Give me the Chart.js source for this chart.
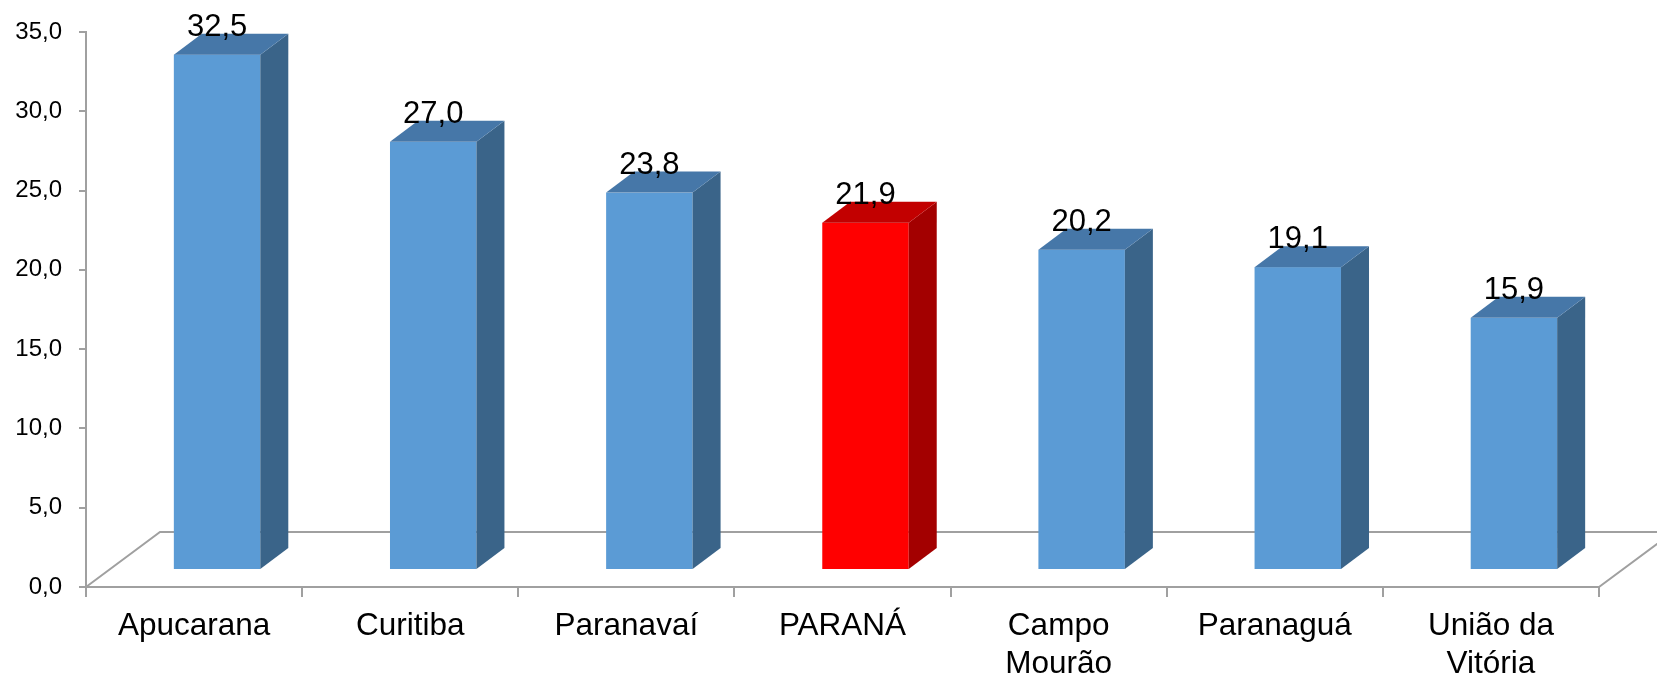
<!DOCTYPE html>
<html>
<head>
<meta charset="utf-8">
<script src="https://cdn.jsdelivr.net/npm/chart.js@4/dist/chart.umd.min.js"></script>
<style>
  html, body { margin: 0; padding: 0; background: #ffffff; }
  #wrap { width: 1657px; height: 676px; position: relative; }
</style>
</head>
<body>
<div id="wrap"><canvas id="c" width="1657" height="676"></canvas></div>
<script>
const categories = ["Apucarana", "Curitiba", "Paranavaí", "PARANÁ", ["Campo", "Mourão"], "Paranaguá", ["União da", "Vitória"]];
const values = [32.5, 27.0, 23.8, 21.9, 20.2, 19.1, 15.9];
const highlight = [false, false, false, true, false, false, false];
const yTicks = { min: 0, max: 35, step: 5 };

const FONT = '"Liberation Sans", Arial, sans-serif';
const BLUE = { front: '#5B9BD5', top: '#4677A8', side: '#3A6489' };
const RED = { front: '#FF0000', top: '#C20000', side: '#A30000' };
const AXIS = '#A0A0A0';

const fmt = v => v.toFixed(1).replace('.', ',');

const bar3d = {
  id: 'bar3d',
  beforeDatasetsDraw(chart) {
    const ctx = chart.ctx;
    const a = chart.chartArea;
    const fdx = 74, fdy = -55;
    ctx.save();
    ctx.strokeStyle = AXIS;
    ctx.lineWidth = 2;
    ctx.beginPath();
    ctx.moveTo(a.left, a.bottom);
    ctx.lineTo(a.left + fdx, a.bottom + fdy);
    ctx.lineTo(a.right + fdx, a.bottom + fdy);
    ctx.lineTo(a.right, a.bottom);
    ctx.stroke();
    ctx.restore();
  },
  afterDatasetsDraw(chart) {
    const ctx = chart.ctx;
    const meta = chart.getDatasetMeta(0);
    const ox = 23, oy = -17, dx = 28, dy = -21;
    ctx.save();
    meta.data.forEach((bar, i) => {
      const p = bar.getProps(['x', 'y', 'base', 'width'], true);
      const c = highlight[i] ? RED : BLUE;
      const x0 = p.x - p.width / 2 + ox, x1 = x0 + p.width;
      const yt = p.y + oy, yb = p.base + oy;
      ctx.fillStyle = c.front;
      ctx.fillRect(x0, yt, p.width, yb - yt);
      ctx.fillStyle = c.side;
      ctx.beginPath();
      ctx.moveTo(x1, yt); ctx.lineTo(x1 + dx, yt + dy); ctx.lineTo(x1 + dx, yb + dy); ctx.lineTo(x1, yb); ctx.closePath();
      ctx.fill();
      ctx.fillStyle = c.top;
      ctx.beginPath();
      ctx.moveTo(x0, yt); ctx.lineTo(x0 + dx, yt + dy); ctx.lineTo(x1 + dx, yt + dy); ctx.lineTo(x1, yt); ctx.closePath();
      ctx.fill();
      ctx.fillStyle = '#000';
      ctx.font = '31px ' + FONT;
      ctx.textAlign = 'center';
      ctx.textBaseline = 'alphabetic';
      ctx.fillText(fmt(values[i]), (x0 + x1) / 2, yt - 19);
    });
    ctx.restore();
  }
};

new Chart(document.getElementById('c'), {
  type: 'bar',
  data: {
    labels: categories,
    datasets: [{
      data: values,
      backgroundColor: 'rgba(0,0,0,0)',
      borderWidth: 0,
      barPercentage: 0.4,
      categoryPercentage: 1.0
    }]
  },
  options: {
    responsive: false,
    animation: false,
    devicePixelRatio: 1,
    layout: { padding: { top: 32, right: 58, left: 0, bottom: 0 } },
    plugins: { legend: { display: false }, tooltip: { enabled: false } },
    scales: {
      x: {
        afterFit(s) { s.height = 89; },
        grid: { offset: true, drawOnChartArea: false, tickLength: 10, color: AXIS, lineWidth: 2 },
        border: { display: true, color: AXIS, width: 2 },
        ticks: { color: '#000', font: { family: FONT, size: 31.5, lineHeight: 1.19 }, padding: 11, maxRotation: 0, autoSkip: false }
      },
      y: {
        min: yTicks.min, max: yTicks.max,
        afterFit(s) { s.width = 86; },
        grid: { drawOnChartArea: false, tickLength: 7, color: AXIS, lineWidth: 2 },
        border: { display: true, color: AXIS, width: 2 },
        ticks: { stepSize: yTicks.step, color: '#000', font: { family: FONT, size: 24 }, padding: 17, callback: v => fmt(v) }
      }
    }
  },
  plugins: [bar3d]
});
</script>
</body>
</html>
